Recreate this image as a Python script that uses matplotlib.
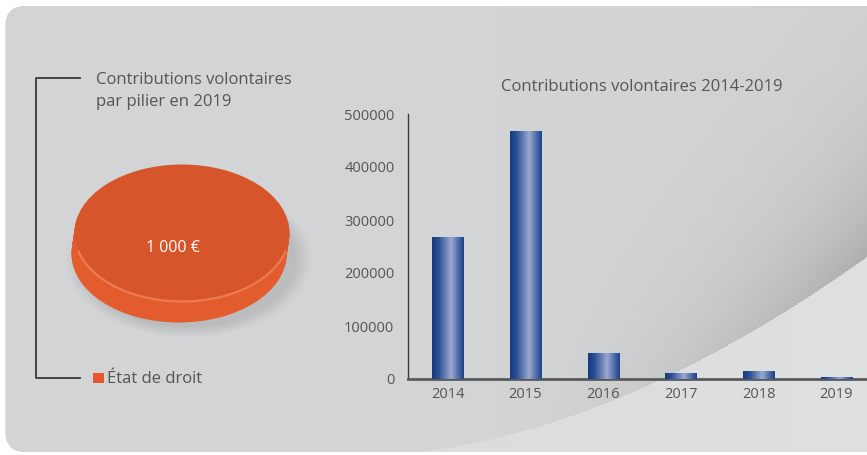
import numpy as np
import matplotlib
matplotlib.use("Agg")
import matplotlib.pyplot as plt
from matplotlib.patches import FancyBboxPatch, Rectangle, Arc
from matplotlib.colors import LinearSegmentedColormap
from matplotlib.ticker import FuncFormatter

plt.rcParams['font.family'] = ['Open Sans', 'DejaVu Sans']

# Data
years = ['2014', '2015', '2016', '2017', '2018', '2019']
amounts = [268000, 467000, 48500, 10700, 15000, 4300]
pillars = ['État de droit']
pillar_amounts = [1000]

bar_title = 'Contributions volontaires 2014-2019'
pie_title = ['Contributions volontaires', 'par pilier en 2019']

W, H = 867, 455
TEXT = '#555555'
ORANGE_TOP = '#d6552a'
ORANGE_SIDE = '#e35c2d'
ORANGE_KEY = '#e8572a'

fig = plt.figure(figsize=(W / 100, H / 100), dpi=100, facecolor='white')


def px_axes(left, top, right, bottom, **kw):
    """Axes placed with pixel edges measured from the top-left corner."""
    return fig.add_axes([left / W, 1 - bottom / H, (right - left) / W, (bottom - top) / H], **kw)


# ---- background panel with the curved light/shadow sweep ----
bg = fig.add_axes([0, 0, 1, 1], zorder=0)
bg.set_xlim(0, W)
bg.set_ylim(H, 0)
bg.axis('off')

panel = FancyBboxPatch((5.5, 6), 920, 446, boxstyle='round,pad=0,rounding_size=20',
                       facecolor='#d3d4d6', edgecolor='none')
bg.add_patch(panel)

yy, xx = np.mgrid[0:H, 0:W] + 0.5
curve = 455 - 198 * np.clip((xx - 370) / 497, 0, None) ** 1.8
dist = curve - yy
base = np.array([211, 212, 214]) / 255.0
shade = 0.15 * np.clip((xx - 500) / 367, 0, 1) ** 1.5 * np.exp(-np.clip(dist, 0, None) / 105)
rgb = np.empty((H, W, 3))
rgb[:] = base
rgb[dist > 0] -= shade[dist > 0][:, None]
below = dist <= 0
rgb[below] = base + 0.035 + 0.01 * np.clip((xx[below] - 500) / 367, 0, 1)[:, None]
sweep = bg.imshow(np.clip(rgb, 0, 1), extent=(0, W, H, 0), interpolation='bilinear', zorder=1)
sweep.set_clip_path(panel)

# bracket and captions on the left
bg.plot([80, 36, 36, 80], [77.5, 77.5, 378, 378], color='#3a3a3a', lw=1.3, zorder=2)
bg.text(96.5, 83.5, pie_title[0], fontsize=12, color=TEXT, va='baseline', zorder=3)
bg.text(96.5, 105.5, pie_title[1], fontsize=12, color=TEXT, va='baseline', zorder=3)
bg.add_patch(Rectangle((93, 372.5), 11, 10.5, facecolor=ORANGE_KEY, edgecolor='none', zorder=3))
bg.text(107, 383, pillars[0], fontsize=12, color=TEXT, va='baseline', zorder=3)
bg.text(642, 91, bar_title, fontsize=12, color=TEXT, ha='center', va='baseline', zorder=3)

# ---- 3D-looking disc for the single pillar ----
# one data unit = 107.5 px across, 68.5 px down
cx, cy = 182, 233
ux, uy = 107.5, 68.5
pax = px_axes(cx - 1.15 * ux, cy - 1.15 * uy, cx + 1.15 * ux, cy + 1.5 * uy, zorder=2)
pax.patch.set_alpha(0)

# soft shadow under the disc
for k in range(8):
    s = 1.0 + 0.02 * k
    pax.pie([1], radius=s, center=(0.06, -0.38), colors=['#000000'],
            wedgeprops=dict(linewidth=0, alpha=0.012))

# extruded side
layers = 22
dx, dy = -3 / ux, -21 / uy
for k in range(layers, 0, -1):
    f = k / layers
    pax.pie(pillar_amounts, radius=1, center=(dx * f, dy * f), colors=[ORANGE_SIDE],
            startangle=90, wedgeprops=dict(linewidth=0))
# top face
pax.pie(pillar_amounts, radius=1, center=(0, 0), colors=[ORANGE_TOP],
        startangle=90, wedgeprops=dict(linewidth=0))
pax.add_patch(Arc((0, 0), 2, 2, theta1=195, theta2=345, color='#ec7c52', lw=1.6))

pax.set_aspect('auto')
pax.set_xlim(-1.15, 1.15)
pax.set_ylim(-1.5, 1.15)
pax.axis('off')
total = f"{pillar_amounts[0]:,}".replace(',', ' ')
pax.text(-0.08, -0.22, f"{total} €", color='white', fontsize=11.5, ha='center', va='center')

# ---- bar chart ----
ax = px_axes(408.3, 114, W, 379, zorder=2)
ax.patch.set_alpha(0)
x = np.arange(len(years))
bars = ax.bar(x, amounts, width=0.4, color='#27498f', linewidth=0, zorder=2)

bar_cmap = LinearSegmentedColormap.from_list(
    'cyl', [(0, '#163a7e'), (0.2, '#2a4f95'), (0.6, '#9aa9cf'), (0.8, '#5a73ae'), (1, '#1c438c')])
grad = np.linspace(0, 1, 64)[None, :]
for b in bars:
    x0, y0 = b.get_x(), b.get_y()
    im = ax.imshow(grad, extent=(x0, x0 + b.get_width(), y0, y0 + b.get_height()),
                   aspect='auto', cmap=bar_cmap, interpolation='bilinear', zorder=3)
    im.set_clip_path(b)

ax.set_xlim(-0.508, 5.395)
ax.set_ylim(0, 500000)
ax.set_xticks(x)
ax.set_xticklabels(years)
ax.set_yticks(range(0, 500001, 100000))
ax.yaxis.set_major_formatter(FuncFormatter(lambda v, p: f"{v:.0f}"))
ax.tick_params(axis='both', length=0, labelsize=10.5, labelcolor=TEXT)
ax.tick_params(axis='y', pad=10)
ax.tick_params(axis='x', pad=6)
for side in ('top', 'right'):
    ax.spines[side].set_visible(False)
ax.spines['left'].set_color('#3c3c3c')
ax.spines['left'].set_linewidth(1.0)
ax.spines['bottom'].set_color('#5a5a5a')
ax.spines['bottom'].set_linewidth(2.0)

fig.savefig('out.png', dpi=100, facecolor='white')
